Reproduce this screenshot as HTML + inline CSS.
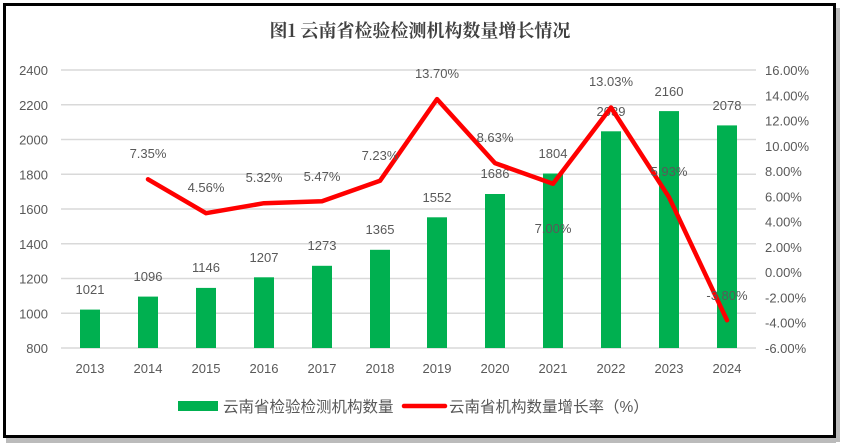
<!DOCTYPE html>
<html><head><meta charset="utf-8"><style>
html,body{margin:0;padding:0;background:#fff;}
svg{display:block;}
text{font-family:"Liberation Sans","Noto Sans CJK SC",sans-serif;fill:#595959;font-size:13px;}
</style></head><body>
<svg width="841" height="445" viewBox="0 0 841 445" xmlns="http://www.w3.org/2000/svg">
<rect x="0" y="0" width="841" height="445" fill="#fff"/>
<rect x="6" y="438" width="830" height="5" fill="#bbb"/>
<rect x="836" y="8" width="4" height="434" fill="#bbb"/>
<rect x="4.5" y="4.5" width="830" height="432" fill="#fff" stroke="#000" stroke-width="3"/>
<text x="420" y="37" text-anchor="middle" style="font-family:'Noto Serif CJK SC','Liberation Serif',serif;font-size:18px;font-weight:bold;fill:#404040">图1  云南省检验检测机构数量增长情况</text>
<g stroke="#d9d9d9" stroke-width="1.5">
<line x1="61" x2="756" y1="70" y2="70"/><line x1="61" x2="756" y1="104.75" y2="104.75"/>
<line x1="61" x2="756" y1="139.5" y2="139.5"/><line x1="61" x2="756" y1="174.25" y2="174.25"/>
<line x1="61" x2="756" y1="209" y2="209"/><line x1="61" x2="756" y1="243.75" y2="243.75"/>
<line x1="61" x2="756" y1="278.5" y2="278.5"/><line x1="61" x2="756" y1="313.25" y2="313.25"/>
<line x1="61" x2="756" y1="348" y2="348"/>
</g>
<g text-anchor="end">
<text x="48" y="75">2400</text><text x="48" y="109.75">2200</text><text x="48" y="144.5">2000</text>
<text x="48" y="179.25">1800</text><text x="48" y="214">1600</text><text x="48" y="248.75">1400</text>
<text x="48" y="283.5">1200</text><text x="48" y="318.25">1000</text><text x="48" y="353">800</text>
</g>
<g>
<text x="765" y="75">16.00%</text><text x="765" y="100.3">14.00%</text><text x="765" y="125.5">12.00%</text>
<text x="765" y="150.8">10.00%</text><text x="765" y="176.1">8.00%</text><text x="765" y="201.4">6.00%</text>
<text x="765" y="226.6">4.00%</text><text x="765" y="251.9">2.00%</text><text x="765" y="277.2">0.00%</text>
<text x="765" y="302.5">-2.00%</text><text x="765" y="327.7">-4.00%</text><text x="765" y="353">-6.00%</text>
</g>
<g fill="#00b050">
<rect x="80" y="309.6" width="20" height="38.4"/>
<rect x="138" y="296.6" width="20" height="51.4"/>
<rect x="196" y="287.9" width="20" height="60.1"/>
<rect x="254" y="277.3" width="20" height="70.7"/>
<rect x="312" y="265.8" width="20" height="82.2"/>
<rect x="370" y="249.8" width="20" height="98.2"/>
<rect x="427" y="217.3" width="20" height="130.7"/>
<rect x="485" y="194.0" width="20" height="154"/>
<rect x="543" y="173.5" width="20" height="174.5"/>
<rect x="601" y="131.3" width="20" height="216.7"/>
<rect x="659" y="111.1" width="20" height="236.9"/>
<rect x="717" y="125.4" width="20" height="222.6"/>
</g>
<g text-anchor="middle">
<text x="90" y="294">1021</text><text x="148" y="281">1096</text><text x="206" y="272">1146</text>
<text x="264" y="262">1207</text><text x="322" y="250">1273</text><text x="380" y="234">1365</text>
<text x="437" y="202">1552</text><text x="495" y="178">1686</text><text x="553" y="158">1804</text>
<text x="611" y="116">2039</text><text x="669" y="96">2160</text><text x="727" y="110">2078</text>
</g>
<polyline fill="none" stroke="#ff0000" stroke-width="4.5" stroke-linejoin="round" stroke-linecap="round"
points="148,179.3 206,213.2 264,203.2 322,201.3 380,180.8 437,99.1 495,163.1 553,183.7 611,107.5 669,197.2 727,320.2"/>
<g text-anchor="middle">
<text x="148" y="158">7.35%</text><text x="206" y="192">4.56%</text><text x="264" y="182">5.32%</text>
<text x="322" y="181">5.47%</text><text x="380" y="160">7.23%</text><text x="437" y="78">13.70%</text>
<text x="495" y="142">8.63%</text><text x="553" y="233">7.00%</text><text x="611" y="86">13.03%</text>
<text x="669" y="176">5.93%</text><text x="727" y="300">-3.80%</text>
</g>
<g text-anchor="middle">
<text x="90" y="373">2013</text><text x="148" y="373">2014</text><text x="206" y="373">2015</text>
<text x="264" y="373">2016</text><text x="322" y="373">2017</text><text x="380" y="373">2018</text>
<text x="437" y="373">2019</text><text x="495" y="373">2020</text><text x="553" y="373">2021</text>
<text x="611" y="373">2022</text><text x="669" y="373">2023</text><text x="727" y="373">2024</text>
</g>
<rect x="178" y="401" width="40" height="10" fill="#00b050"/>
<text x="223" y="412" style="font-size:15.5px">云南省检验检测机构数量</text>
<line x1="404" x2="445" y1="406" y2="406" stroke="#ff0000" stroke-width="4.5" stroke-linecap="round"/>
<text x="449" y="412" style="font-size:15.5px">云南省机构数量增长率（%）</text>
</svg>
</body></html>
